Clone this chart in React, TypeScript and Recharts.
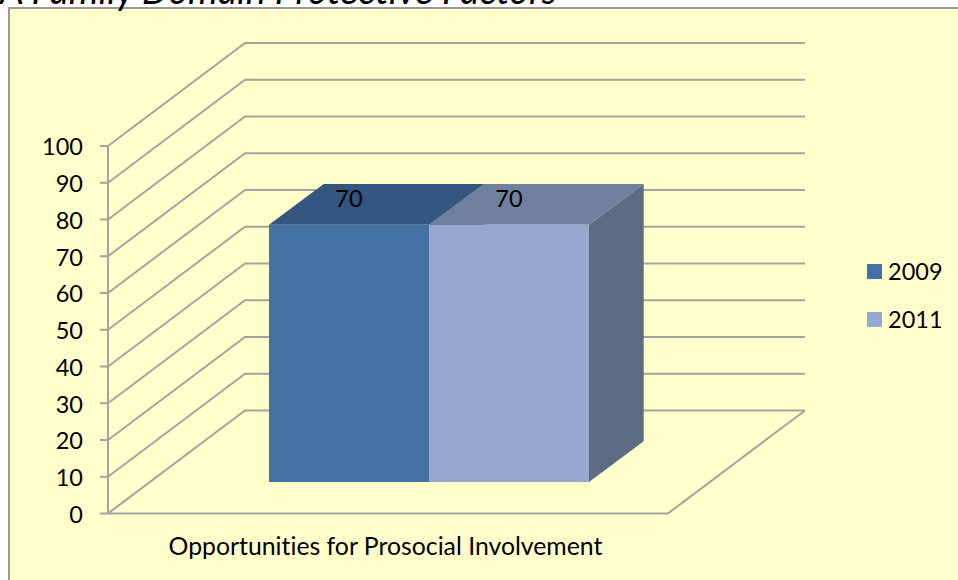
import { BarChart, Bar, XAxis, YAxis, CartesianGrid, Legend, LabelList } from "recharts";

const categories = ["Opportunities for Prosocial Involvement"];
const values2009 = [70];
const values2011 = [70];
const yTicks = [0, 10, 20, 30, 40, 50, 60, 70, 80, 90, 100];

const data = categories.map((name, i) => ({ name, y2009: values2009[i], y2011: values2011[i] }));

const FONT = "Lato, sans-serif";
const GRID = "#a3a3a0";
// how far the back wall sits behind the front plane
const WALL_X = 137;
const WALL_Y = 103;
// bar box: where it stands on the floor and how deep it is
const BAR_X = 41;
const BAR_Y = 31.5;
const DEPTH_X = 54.7;
const DEPTH_Y = 40.7;

const WallLine = (props: any) => {
  const { x1, x2, y1 } = props;
  const isFloor = y1 > 500;
  return (
    <g key={props.key ?? y1}>
      <polyline
        points={`${x1},${y1} ${x1 + WALL_X},${y1 - WALL_Y} ${x2 + WALL_X},${y1 - WALL_Y}`}
        fill="none"
        stroke={GRID}
        strokeWidth={2}
      />
      {isFloor && (
        <line x1={x2} y1={y1} x2={x2 + WALL_X} y2={y1 - WALL_Y} stroke={GRID} strokeWidth={2} />
      )}
    </g>
  );
};

const makeBox = (front: string, top: string, side: string) => (props: any) => {
  const { x, y, width, height } = props;
  const l = x + BAR_X;
  const r = l + width;
  const t = y - BAR_Y;
  const b = t + height;
  return (
    <g>
      <polygon
        points={`${r},${t} ${r + DEPTH_X},${t - DEPTH_Y} ${r + DEPTH_X},${b - DEPTH_Y} ${r},${b}`}
        fill={side}
      />
      <polygon
        points={`${l},${t} ${l + DEPTH_X},${t - DEPTH_Y} ${r + DEPTH_X},${t - DEPTH_Y} ${r},${t}`}
        fill={top}
      />
      <rect x={l} y={t} width={width} height={height} fill={front} />
    </g>
  );
};

const TopLabel = (props: any) => (
  <text
    x={props.x + props.width / 2 + BAR_X}
    y={props.y - 58}
    textAnchor="middle"
    dominantBaseline="central"
    fontFamily={FONT}
    fontSize={23.5}
    fill="#000"
  >
    {props.value}
  </text>
);

const LegendBox = ({ payload }: any) => (
  <div>
    {(payload ?? []).map((item: any) => (
      <div key={item.value} style={{ display: "flex", alignItems: "center", height: 48 }}>
        <span style={{ width: 15, height: 15, background: item.color, marginRight: 6 }} />
        <span style={{ fontFamily: FONT, fontSize: 23.5, color: "#000" }}>{item.value}</span>
      </div>
    ))}
  </div>
);

export default function App() {
  return (
    <div
      style={{
        position: "absolute",
        left: 0,
        top: 0,
        width: 958,
        height: 580,
        background: "#fff",
        overflow: "hidden",
        fontVariantLigatures: "none",
      }}
    >
      <div
        style={{
          position: "absolute",
          left: 8,
          top: 7,
          width: 950,
          height: 573,
          boxSizing: "border-box",
          background: "#ffffcc",
          borderLeft: "2px solid #999",
          borderTop: "2px solid #999",
        }}
      />
      <div
        style={{
          position: "absolute",
          left: 0,
          top: -32,
          fontFamily: FONT,
          fontStyle: "italic",
          fontSize: 37.8,
          lineHeight: "44px",
          whiteSpace: "nowrap",
          color: "#000",
        }}
      >
        A Family Domain Protective Factors
      </div>
      <div style={{ position: "absolute", left: 0, top: 0 }}>
        <BarChart
          width={958}
          height={580}
          data={data}
          margin={{ top: 146, right: 290, bottom: 0, left: 0 }}
          barCategoryGap={120}
          barGap={0}
        >
          <CartesianGrid vertical={false} horizontal={WallLine} />
          <XAxis
            dataKey="name"
            height={66.5}
            axisLine={{ stroke: GRID, strokeWidth: 2 }}
            tickLine={false}
            tickMargin={18}
            dx={-2.5}
            tick={{ fontFamily: FONT, fontSize: 24.8, fill: "#000" }}
          />
          <YAxis
            width={108}
            domain={[0, 100]}
            ticks={yTicks}
            interval={0}
            axisLine={{ stroke: GRID, strokeWidth: 2 }}
            tickLine={{ stroke: GRID, strokeWidth: 2 }}
            tickSize={8}
            tickMargin={17}
            dy={1}
            tick={{ fontFamily: FONT, fontSize: 23.5, fill: "#000" }}
          />
          <Legend
            layout="vertical"
            align="center"
            verticalAlign="middle"
            content={LegendBox}
            wrapperStyle={{ position: "absolute", left: 867, top: 247, width: 90 }}
          />
          <Bar
            dataKey="y2009"
            name="2009"
            fill="#4472a4"
            isAnimationActive={false}
            shape={makeBox("#4472a4", "#345580", "#33557f")}
          >
            <LabelList dataKey="y2009" content={TopLabel} />
          </Bar>
          <Bar
            dataKey="y2011"
            name="2011"
            fill="#95a8d0"
            isAnimationActive={false}
            shape={makeBox("#95a8d0", "#70809f", "#5d6b83")}
          >
            <LabelList dataKey="y2011" content={TopLabel} />
          </Bar>
        </BarChart>
      </div>
    </div>
  );
}
